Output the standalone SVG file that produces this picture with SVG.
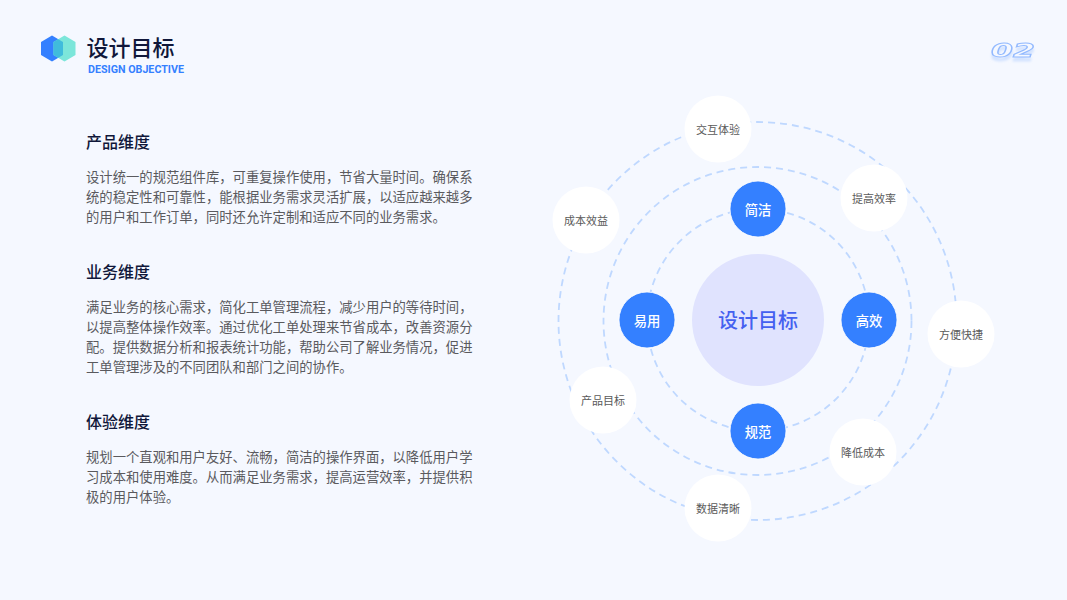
<svg xmlns="http://www.w3.org/2000/svg" width="1067" height="600" viewBox="0 0 1067 600">
<defs>
<style>
text{font-family:"Noto Sans CJK SC","Liberation Sans",sans-serif}
.h{font-size:16px;font-weight:500;fill:#10173a}
.b{font-size:13.33px;fill:#5a5a5e}
.ring{fill:none;stroke:#bfd8ff;stroke-width:1.8;stroke-dasharray:7 5}
.wn{fill:#fff}
.wt{font-size:11px;fill:#5a5a5a;text-anchor:middle;dominant-baseline:central}
.bn{fill:#3480ff;stroke:#fff;stroke-width:.8}
.bt{font-size:13.33px;font-weight:500;fill:#fff;text-anchor:middle;dominant-baseline:central}
.pn{font-family:"DejaVu Sans",sans-serif;font-size:20px;font-weight:700;font-style:italic;text-anchor:middle}
</style>
<filter id="refl" x="-20%" y="-40%" width="140%" height="190%">
<feOffset in="SourceAlpha" dy="4" result="o"/>
<feGaussianBlur in="o" stdDeviation="1" result="b"/>
<feFlood flood-color="#c6dbff" flood-opacity=".7"/>
<feComposite in2="b" operator="in" result="g"/>
<feMerge><feMergeNode in="g"/><feMergeNode in="SourceGraphic"/></feMerge>
</filter>
</defs>
<rect width="1067" height="600" fill="#f5f8ff"/>
<g id="header">
<polygon points="52,35.500 63,42 63,55 52,61.500 41,55 41,42" fill="#3480ff"/>
<polygon points="64.500,35.500 75.500,42 75.500,55 64.500,61.500 53.500,55 53.500,42" fill="#7ce6da"/>
<polygon points="58.250,39.200 63,42 63,55 58.250,57.800 53.500,55 53.500,42" fill="#40bcdc"/>
<text x="86.500" y="56" font-size="22" font-weight="500" fill="#10173a">设计目标</text>
<text x="88" y="73" style="font-family:Roboto,'Liberation Sans',sans-serif" font-size="10.670" font-weight="700" fill="#3480ff" textLength="96" lengthAdjust="spacingAndGlyphs">DESIGN OBJECTIVE</text>
</g>
<g id="page-number">
<text class="pn" x="1013" y="57" fill="#f5f8ff" stroke="#93baff" stroke-width="1" textLength="44" lengthAdjust="spacingAndGlyphs" filter="url(#refl)">02</text>
</g>
<g id="section-product">
<text class="h" x="86" y="148">产品维度</text>
<text class="b" x="86" y="182">设计统一的规范组件库，可重复操作使用，节省大量时间。确保系</text>
<text class="b" x="86" y="202">统的稳定性和可靠性，能根据业务需求灵活扩展，以适应越来越多</text>
<text class="b" x="86" y="222">的用户和工作订单，同时还允许定制和适应不同的业务需求。</text>
</g>
<g id="section-business">
<text class="h" x="86" y="278">业务维度</text>
<text class="b" x="86" y="312">满足业务的核心需求，简化工单管理流程，减少用户的等待时间，</text>
<text class="b" x="86" y="332">以提高整体操作效率。通过优化工单处理来节省成本，改善资源分</text>
<text class="b" x="86" y="352">配。提供数据分析和报表统计功能，帮助公司了解业务情况，促进</text>
<text class="b" x="86" y="372">工单管理涉及的不同团队和部门之间的协作。</text>
</g>
<g id="section-experience">
<text class="h" x="86" y="428">体验维度</text>
<text class="b" x="86" y="462">规划一个直观和用户友好、流畅，简洁的操作界面，以降低用户学</text>
<text class="b" x="86" y="482">习成本和使用难度。从而满足业务需求，提高运营效率，并提供积</text>
<text class="b" x="86" y="502">极的用户体验。</text>
</g>
<g id="connectors">
<circle class="ring" cx="758" cy="320" r="111"/>
<circle class="ring" cx="757.500" cy="321" r="154"/>
<circle class="ring" cx="757.500" cy="321" r="199"/>
</g>
<g id="center"><circle cx="758" cy="320" r="66" fill="#e0e3fe"/><text x="758" y="319" font-size="20" font-weight="500" fill="#4460f0" text-anchor="middle" dominant-baseline="central">设计目标</text></g>
<g id="n-jianjie"><circle class="bn" cx="758" cy="209" r="28"/><text class="bt" x="758" y="209">简洁</text></g>
<g id="n-gaoxiao"><circle class="bn" cx="869" cy="320" r="28"/><text class="bt" x="869" y="320">高效</text></g>
<g id="n-guifan"><circle class="bn" cx="758" cy="431" r="28"/><text class="bt" x="758" y="431">规范</text></g>
<g id="n-yiyong"><circle class="bn" cx="647" cy="320" r="28"/><text class="bt" x="647" y="320">易用</text></g>
<g id="n-jiaohu"><circle class="wn" cx="718" cy="129" r="33.500"/><text class="wt" x="718" y="129">交互体验</text></g>
<g id="n-tigao"><circle class="wn" cx="874" cy="198" r="33.500"/><text class="wt" x="874" y="198">提高效率</text></g>
<g id="n-fangbian"><circle class="wn" cx="961" cy="334" r="33.500"/><text class="wt" x="961" y="334">方便快捷</text></g>
<g id="n-jiangdi"><circle class="wn" cx="863" cy="452" r="33.500"/><text class="wt" x="863" y="452">降低成本</text></g>
<g id="n-shuju"><circle class="wn" cx="718" cy="508" r="33.500"/><text class="wt" x="718" y="508">数据清晰</text></g>
<g id="n-chanpin"><circle class="wn" cx="603" cy="400" r="33.500"/><text class="wt" x="603" y="400">产品目标</text></g>
<g id="n-chengben"><circle class="wn" cx="586" cy="220" r="33.500"/><text class="wt" x="586" y="220">成本效益</text></g>
</svg>
